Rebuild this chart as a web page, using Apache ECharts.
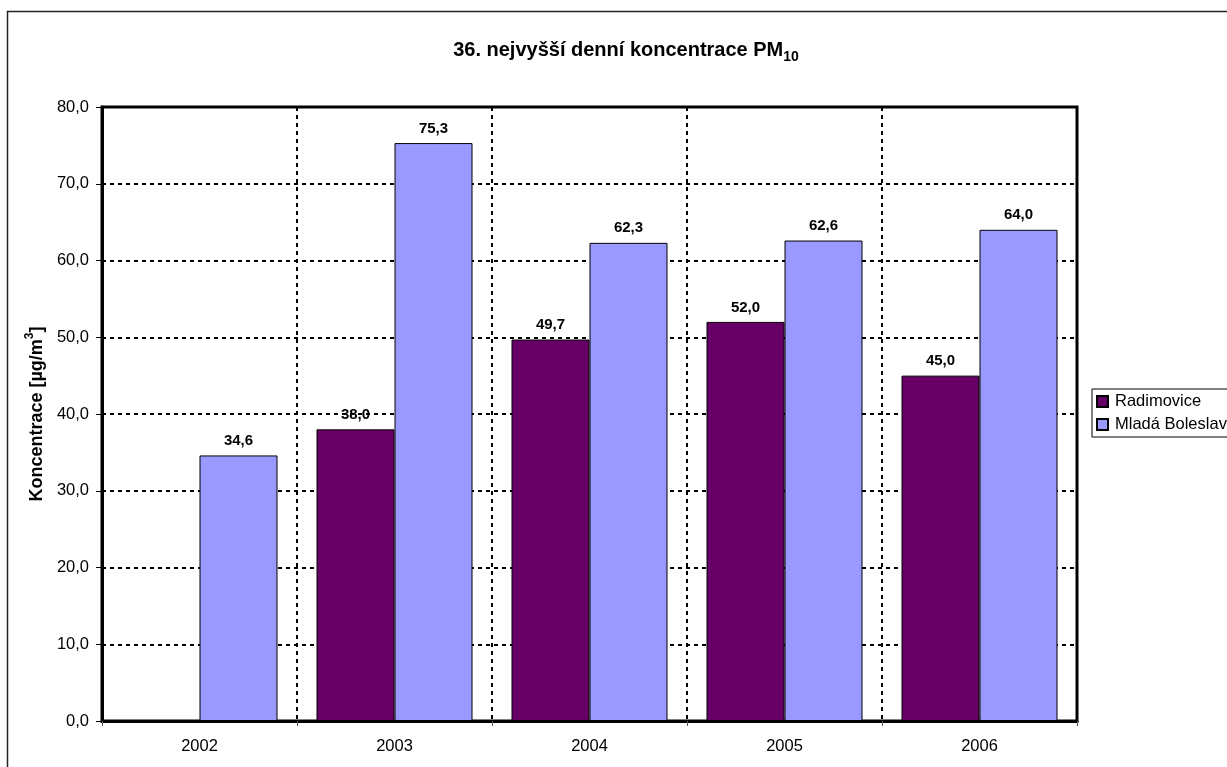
<!DOCTYPE html>
<html>
<head>
<meta charset="utf-8">
<script src="https://cdn.jsdelivr.net/npm/echarts@6/dist/echarts.min.js"></script>
<style>
  html, body { margin: 0; padding: 0; background: #fff; }
  #chart { width: 1227px; height: 767px; }
</style>
</head>
<body>
<div id="chart"></div>
<script>
// Years on the category axis
const years = ['2002', '2003', '2004', '2005', '2006'];
// 36th highest daily PM10 concentration [µg/m3]
const radimovice = [null, 38.0, 49.7, 52.0, 45.0];
const mladaBoleslav = [34.6, 75.3, 62.3, 62.6, 64.0];
// Value axis range
const yMin = 0, yMax = 80, yStep = 10;

const FONT = '"Liberation Sans", Arial, sans-serif';
const fmt = v => Number(v).toFixed(1).replace('.', ',');

const chart = echarts.init(document.getElementById('chart'), null, { renderer: 'canvas' });

const barLabel = {
  show: true,
  position: 'top',
  distance: 7,
  fontFamily: FONT,
  fontSize: 15,
  fontWeight: 'bold',
  color: '#000',
  formatter: p => fmt(p.value)
};

chart.setOption({
  backgroundColor: '#fff',
  animation: false,
  textStyle: { fontFamily: FONT },
  title: {
    text: '{a|36. nejvyšší denní koncentrace PM}{b|10}',
    left: 621,
    textAlign: 'center',
    top: 31,
    textStyle: {
      rich: {
        a: { fontFamily: FONT, fontSize: 20, fontWeight: 'bold', color: '#000', verticalAlign: 'bottom', lineHeight: 24 },
        b: { fontFamily: FONT, fontSize: 14, fontWeight: 'bold', color: '#000', verticalAlign: 'bottom', padding: [0, 0, -4, 0], lineHeight: 24 }
      }
    }
  },
  graphic: [
    {
      type: 'rect',
      shape: { x: 7.5, y: 11.5, width: 1240, height: 780 },
      style: { fill: 'none', stroke: '#222', lineWidth: 1.5 },
      silent: true,
      z: -1
    }
  ],
  legend: {
    orient: 'vertical',
    left: 1092,
    top: 389,
    padding: [4, 40, 4, 4],
    itemGap: 6,
    itemWidth: 11,
    itemHeight: 11,
    borderColor: '#000',
    borderWidth: 1,
    backgroundColor: '#fff',
    icon: 'rect',
    textStyle: { fontFamily: FONT, fontSize: 16.5, color: '#000', padding: [0, 0, 0, 2] },
    data: ['Radimovice', 'Mladá Boleslav']
  },
  grid: {
    left: 102,
    top: 107,
    right: 150,
    bottom: 46,
    show: true,
    borderColor: '#000',
    borderWidth: 3,
    backgroundColor: '#fff',
    containLabel: false
  },
  xAxis: {
    type: 'category',
    data: years,
    axisLine: { show: true, lineStyle: { color: '#000', width: 3 } },
    axisTick: { show: true, length: 5, lineStyle: { color: '#555', width: 1 } },
    axisLabel: { fontFamily: FONT, fontSize: 16.5, color: '#000', margin: 17 },
    splitLine: { show: true, lineStyle: { color: '#000', width: 2, type: [4, 4] } }
  },
  yAxis: {
    type: 'value',
    min: yMin,
    max: yMax,
    interval: yStep,
    name: '{a|Koncentrace [µg/m}{b|3}{a|]}',
    nameLocation: 'middle',
    nameRotate: 90,
    nameGap: 55,
    nameTextStyle: {
      rich: {
        a: { fontFamily: FONT, fontSize: 18, fontWeight: 'bold', color: '#000', verticalAlign: 'bottom', lineHeight: 22 },
        b: { fontFamily: FONT, fontSize: 12, fontWeight: 'bold', color: '#000', verticalAlign: 'top', lineHeight: 22, padding: [0, 0, 9, 0] }
      }
    },
    axisLine: { show: true, lineStyle: { color: '#000', width: 3 } },
    axisTick: { show: true, length: 6, lineStyle: { color: '#000', width: 1 } },
    axisLabel: { fontFamily: FONT, fontSize: 16.5, color: '#000', margin: 13, formatter: v => fmt(v) },
    splitLine: { show: true, lineStyle: { color: '#000', width: 2, type: [4, 4] } }
  },
  series: [
    {
      name: 'Radimovice',
      type: 'bar',
      data: radimovice,
      barGap: '0%',
      barCategoryGap: '20%',
      itemStyle: { color: '#660066', borderColor: '#000', borderWidth: 1 },
      label: barLabel
    },
    {
      name: 'Mladá Boleslav',
      type: 'bar',
      data: mladaBoleslav,
      barGap: '0%',
      barCategoryGap: '20%',
      itemStyle: { color: '#9999FF', borderColor: '#000', borderWidth: 1 },
      label: barLabel
    }
  ]
});
</script>
</body>
</html>
